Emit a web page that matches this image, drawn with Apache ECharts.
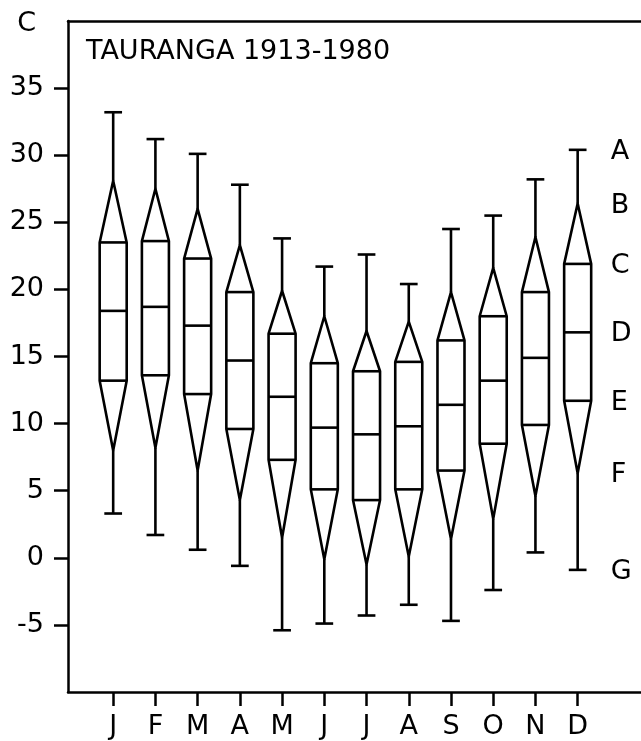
<!DOCTYPE html>
<html>
<head>
<meta charset="utf-8">
<script src="https://cdn.jsdelivr.net/npm/echarts@6/dist/echarts.min.js"></script>
<style>
html,body{margin:0;padding:0;background:#fff;}
#chart{width:641px;height:741px;}
</style>
</head>
<body>
<div id="chart"></div>
<script>
// Data (degrees C), Tauranga 1913-1980
const months = ['J','F','M','A','M','J','J','A','S','O','N','D'];
const maxT      = [33.2, 31.2, 30.1, 27.8, 23.8, 21.7, 22.6, 20.4, 24.5, 25.5, 28.2, 30.4]; // A
const upperTip  = [28.1, 27.5, 26.0, 23.3, 19.9, 18.0, 16.9, 17.6, 19.8, 21.6, 23.9, 26.4]; // B
const boxTop    = [23.5, 23.6, 22.3, 19.8, 16.7, 14.5, 13.9, 14.6, 16.2, 18.0, 19.8, 21.9]; // C
const median    = [18.4, 18.7, 17.3, 14.7, 12.0,  9.7,  9.2,  9.8, 11.4, 13.2, 14.9, 16.8]; // D
const boxBottom = [13.2, 13.6, 12.2,  9.6,  7.3,  5.1,  4.3,  5.1,  6.5,  8.5,  9.9, 11.7]; // E
const lowerTip  = [ 8.0,  8.2,  6.5,  4.3,  1.5, -0.1, -0.5,  0.1,  1.4,  2.9,  4.6,  6.3]; // F
const minT      = [ 3.3,  1.7,  0.6, -0.6, -5.4, -4.9, -4.3, -3.5, -4.7, -2.4,  0.4, -0.9]; // G
const keyLetters = ['A','B','C','D','E','F','G'];
const yTickValues = [-5, 0, 5, 10, 15, 20, 25, 30, 35];
const titleText = 'TAURANGA 1913-1980';

const FONT = 'DejaVu Sans';
const FS = 27;
const monthPos = months.map((m, i) => i + 1);

const glyphData = months.map((m, i) => [i + 1, maxT[i], upperTip[i], boxTop[i], median[i], boxBottom[i], lowerTip[i], minT[i]]);
const last = months.length - 1;
const keySeries = [maxT, upperTip, boxTop, median, boxBottom, lowerTip, minT];
const keyData = keyLetters.map((l, k) => ({ value: [months.length, keySeries[k][last]], name: l }));

const chart = echarts.init(document.getElementById('chart'), null, { renderer: 'canvas' });

const LW = 2.6;
const st = { stroke: '#000', lineWidth: LW, fill: null, lineJoin: 'round' };

function renderGlyph(params, api) {
  const x = api.value(0);
  const cx = api.coord([x, 0])[0];
  const unit = api.size([1, 0])[0];
  const h = unit * 0.32;
  const c = unit * 0.21;
  const y = v => api.coord([x, v])[1];
  const yA = y(api.value(1)), yB = y(api.value(2)), yC = y(api.value(3)),
        yD = y(api.value(4)), yE = y(api.value(5)), yF = y(api.value(6)), yG = y(api.value(7));
  const line = (x1, y1, x2, y2) => ({ type: 'line', shape: { x1, y1, x2, y2 }, style: st });
  return {
    type: 'group',
    children: [
      line(cx, yA, cx, yB),
      line(cx - c, yA, cx + c, yA),
      line(cx, yF, cx, yG),
      line(cx - c, yG, cx + c, yG),
      { type: 'polygon', shape: { points: [[cx, yB], [cx + h, yC], [cx + h, yE], [cx, yF], [cx - h, yE], [cx - h, yC]] }, style: st },
      line(cx - h, yC, cx + h, yC),
      line(cx - h, yD, cx + h, yD),
      line(cx - h, yE, cx + h, yE)
    ]
  };
}

function renderKey(params, api) {
  const p = api.coord([api.value(0), api.value(1)]);
  return {
    type: 'text',
    x: p[0] + 33,
    y: p[1] + 2,
    style: {
      text: keyLetters[params.dataIndex],
      fill: '#000',
      font: FS + 'px "' + FONT + '"',
      align: 'left',
      verticalAlign: 'middle'
    }
  };
}

const option = {
  backgroundColor: '#fff',
  animation: false,
  title: {
    text: titleText,
    left: 86,
    top: 38,
    padding: 0,
    textStyle: { fontFamily: FONT, fontSize: FS, fontWeight: 'normal', color: '#000' }
  },
  grid: { left: 68, right: 0, top: 21, bottom: 49, containLabel: false },
  xAxis: [{
    type: 'value',
    min: -0.07,
    max: 13.5,
    position: 'bottom',
    axisLine: { show: true, onZero: false, lineStyle: { color: '#000', width: 2.5 } },
    axisTick: { show: true, customValues: monthPos, length: 14, inside: false, lineStyle: { color: '#000', width: 2.5 } },
    axisLabel: {
      show: true, customValues: monthPos, margin: 21,
      formatter: v => months[Math.round(v) - 1] || '',
      color: '#000', fontFamily: FONT, fontSize: FS
    },
    splitLine: { show: false }
  }, {
    type: 'value',
    min: -0.07,
    max: 13.5,
    position: 'top',
    axisLine: { show: true, onZero: false, lineStyle: { color: '#000', width: 2.5 } },
    axisTick: { show: false },
    axisLabel: { show: false },
    splitLine: { show: false }
  }],
  yAxis: {
    type: 'value',
    min: -10,
    max: 40,
    interval: 5,
    name: 'C',
    nameLocation: 'end',
    nameGap: -3,
    nameTextStyle: { color: '#000', fontFamily: FONT, fontSize: FS, align: 'right', verticalAlign: 'middle', padding: [0, 32, 0, 0] },
    axisLine: { show: true, onZero: false, lineStyle: { color: '#000', width: 2.5 } },
    axisTick: { show: true, customValues: yTickValues, length: 14, lineStyle: { color: '#000', width: 2.5 } },
    axisLabel: { show: true, customValues: yTickValues, margin: 24, color: '#000', fontFamily: FONT, fontSize: FS },
    splitLine: { show: false }
  },
  series: [{
    type: 'custom',
    name: 'glyphs',
    xAxisIndex: 0,
    renderItem: renderGlyph,
    data: glyphData,
    encode: { x: 0, y: [1, 2, 3, 4, 5, 6, 7] },
    clip: false,
    silent: true
  }, {
    type: 'custom',
    name: 'key',
    xAxisIndex: 0,
    renderItem: renderKey,
    data: keyData,
    encode: { x: 0, y: 1 },
    clip: false,
    silent: true
  }]
};
chart.setOption(option);
</script>
</body>
</html>
